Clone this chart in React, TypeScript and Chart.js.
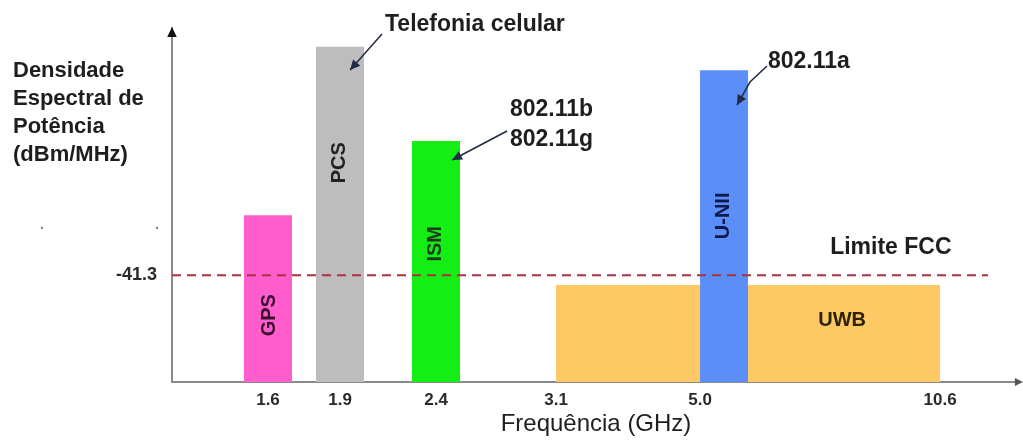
import React, { useEffect, useRef } from 'react';
import { Chart, registerables } from 'chart.js';

Chart.register(...registerables);

// ---- data (schematic frequency axis: one unit = half a bar width) ----
const bandNames = ['GPS', 'PCS', 'ISM', 'U-NII', 'UWB'];
const bandStart = [3, 6, 10, 22, 16];
const bandEnd = [5, 8, 12, 24, 32];
const bandLevel = [-30.8, -1.3, -17.8, -5.4, -43.0]; // dBm/MHz (schematic)
const bandColors = ['#ff5ccc', '#bdbdbd', '#14ee14', '#5b8ef8', '#fcc965'];
const bandTextColors = ['#3a1030', '#222222', '#1a3a1a', '#0d1a4a', '#2e2200'];

const tickPositions = [4, 7, 11, 16, 22, 32];
const tickLabels = ['1.6', '1.9', '2.4', '3.1', '5.0', '10.6'];

const fccLimit = -41.3;
const limitStart = 0;
const limitEnd = 34;

const yTitleLines = ['Densidade', 'Espectral de', 'Potência', '(dBm/MHz)'];
const xTitle = 'Frequência (GHz)';

const FONT = '"Liberation Sans", Arial, sans-serif';

const drawArrowHead = (ctx: CanvasRenderingContext2D, fx: number, fy: number, tx: number, ty: number, size: number) => {
  const a = Math.atan2(ty - fy, tx - fx);
  ctx.beginPath();
  ctx.moveTo(tx, ty);
  ctx.lineTo(tx - size * Math.cos(a - 0.45), ty - size * Math.sin(a - 0.45));
  ctx.lineTo(tx - size * Math.cos(a + 0.45), ty - size * Math.sin(a + 0.45));
  ctx.closePath();
  ctx.fill();
};

const annotationPlugin = {
  id: 'annotations',
  afterDraw(chart: any) {
    const ctx: CanvasRenderingContext2D = chart.ctx;
    const xs = chart.scales.x;
    const ys = chart.scales.y;
    const X = (u: number) => xs.getPixelForValue(u);
    const Y = (v: number) => ys.getPixelForValue(v);
    const area = chart.chartArea;
    ctx.save();

    // axis arrowheads
    ctx.fillStyle = '#111';
    drawArrowHead(ctx, area.left, area.top + 20, area.left, area.top - 1, 11);
    ctx.fillStyle = '#555';
    drawArrowHead(ctx, area.right - 20, area.bottom, area.right + 3, area.bottom, 9);

    // stray dots at left
    ctx.fillStyle = '#777';
    ctx.fillRect(X(-5.42) - 1, Y(-33.0) - 1, 2, 2);
    ctx.fillRect(X(-0.625) - 1, Y(-33.0) - 1, 2, 2);

    // y title (horizontal, multi-line)
    ctx.fillStyle = '#1e1e1e';
    ctx.font = `bold 22px ${FONT}`;
    ctx.textAlign = 'left';
    ctx.textBaseline = 'middle';
    yTitleLines.forEach((t, i) => ctx.fillText(t, 13, 71 + i * 28));

    // labels inside bands
    const innerPos: Record<string, [number, number, boolean]> = {
      'GPS': [0, -48.3, true],
      'PCS': [-0.08, -21.6, true],
      'ISM': [-0.08, -35.8, true],
      'U-NII': [-0.08, -30.9, true],
      'UWB': [27.92, -49.1, false],
    };
    ctx.font = `bold 20px ${FONT}`;
    ctx.textAlign = 'center';
    bandNames.forEach((name, i) => {
      const [dx, v, rot] = innerPos[name];
      const cx = rot ? X((bandStart[i] + bandEnd[i]) / 2 + dx) : X(dx);
      const cy = Y(v);
      ctx.fillStyle = bandTextColors[i];
      ctx.save();
      ctx.translate(cx, cy);
      if (rot) ctx.rotate(-Math.PI / 2);
      ctx.fillText(name, 0, 1);
      ctx.restore();
    });

    // text annotations
    ctx.fillStyle = '#1e1e1e';
    ctx.textAlign = 'left';
    ctx.font = `bold 23px ${FONT}`;
    ctx.fillText('Telefonia celular', X(8.875), Y(2.53));
    ctx.fillText('Limite FCC', X(27.42), Y(-36.53));
    ctx.fillText('802.11b', X(14.08), Y(-12.36));
    ctx.fillText('802.11g', X(14.08), Y(-17.62));
    ctx.fillText('802.11a', X(24.83), Y(-3.95));

    // annotation arrows
    ctx.strokeStyle = '#1f2a44';
    ctx.fillStyle = '#1f2a44';
    ctx.lineWidth = 1.5;
    const arrows: [number, number][][] = [
      [[8.75, 0.95], [7.42, -5.36]],
      [[13.96, -16.04], [11.67, -21.12]],
      [[24.79, -4.66], [24.08, -7.46], [23.54, -11.49]],
    ];
    arrows.forEach((pts) => {
      const p = pts.map(([u, v]) => [X(u), Y(v)]);
      ctx.beginPath();
      ctx.moveTo(p[0][0], p[0][1]);
      for (let k = 1; k < p.length; k++) ctx.lineTo(p[k][0], p[k][1]);
      ctx.stroke();
      const a = p[p.length - 2];
      const b = p[p.length - 1];
      drawArrowHead(ctx, a[0], a[1], b[0], b[1], 11);
    });

    ctx.restore();
  },
};

export default function App() {
  const ref = useRef<HTMLCanvasElement | null>(null);

  useEffect(() => {
    if (!ref.current) return;
    Chart.defaults.font.family = FONT;

    const bandDatasets = bandNames.map((name, i) => ({
      label: name,
      data: [
        { x: bandStart[i], y: bandLevel[i] },
        { x: bandEnd[i], y: bandLevel[i] },
      ],
      fill: 'start',
      backgroundColor: bandColors[i],
      borderColor: 'rgba(0,0,0,0)',
      borderWidth: 0,
      pointRadius: 0,
      tension: 0,
    }));

    const chart = new Chart(ref.current, {
      type: 'line',
      data: {
        datasets: [
          {
            label: 'Limite FCC',
            data: [
              { x: limitStart, y: fccLimit },
              { x: limitEnd, y: fccLimit },
            ],
            borderColor: '#a8323e',
            borderWidth: 2,
            borderDash: [9, 6],
            pointRadius: 0,
            fill: false,
          },
          ...bandDatasets,
        ] as any,
      },
      options: {
        animation: false,
        responsive: false,
        layout: { padding: { top: 28, right: 3, left: 0, bottom: 0 } },
        plugins: { legend: { display: false }, tooltip: { enabled: false } },
        scales: {
          x: {
            type: 'linear',
            min: 0,
            max: 35.33,
            grid: { display: false, drawTicks: false },
            border: { display: true, color: '#8a8a8a', width: 2 },
            afterFit: (s: any) => { s.height = 59; },
            afterBuildTicks: (s: any) => { s.ticks = tickPositions.map((v) => ({ value: v })); },
            ticks: {
              autoSkip: false,
              maxRotation: 0,
              padding: 8,
              color: '#2a2a2a',
              font: { size: 17, weight: 'bold' },
              callback: (_v: any, i: number) => tickLabels[i],
            },
            title: {
              display: true,
              text: xTitle,
              color: '#1e1e1e',
              font: { size: 24 },
              padding: { top: 0, bottom: 2 },
            },
          },
          y: {
            type: 'linear',
            min: -60,
            max: 2,
            grid: { display: false, drawTicks: false },
            border: { display: true, color: '#8a8a8a', width: 2 },
            afterFit: (s: any) => { s.width = 172; },
            afterBuildTicks: (s: any) => { s.ticks = [{ value: fccLimit }]; },
            ticks: {
              padding: 15,
              color: '#2a2a2a',
              font: { size: 18, weight: 'bold' },
              callback: () => String(fccLimit),
            },
          },
        },
      },
      plugins: [annotationPlugin],
    } as any);

    return () => chart.destroy();
  }, []);

  return (
    <div style={{ position: 'fixed', left: 0, top: 0, width: 1023, height: 441, background: '#fff' }}>
      <canvas ref={ref} width={1023} height={441} />
    </div>
  );
}
